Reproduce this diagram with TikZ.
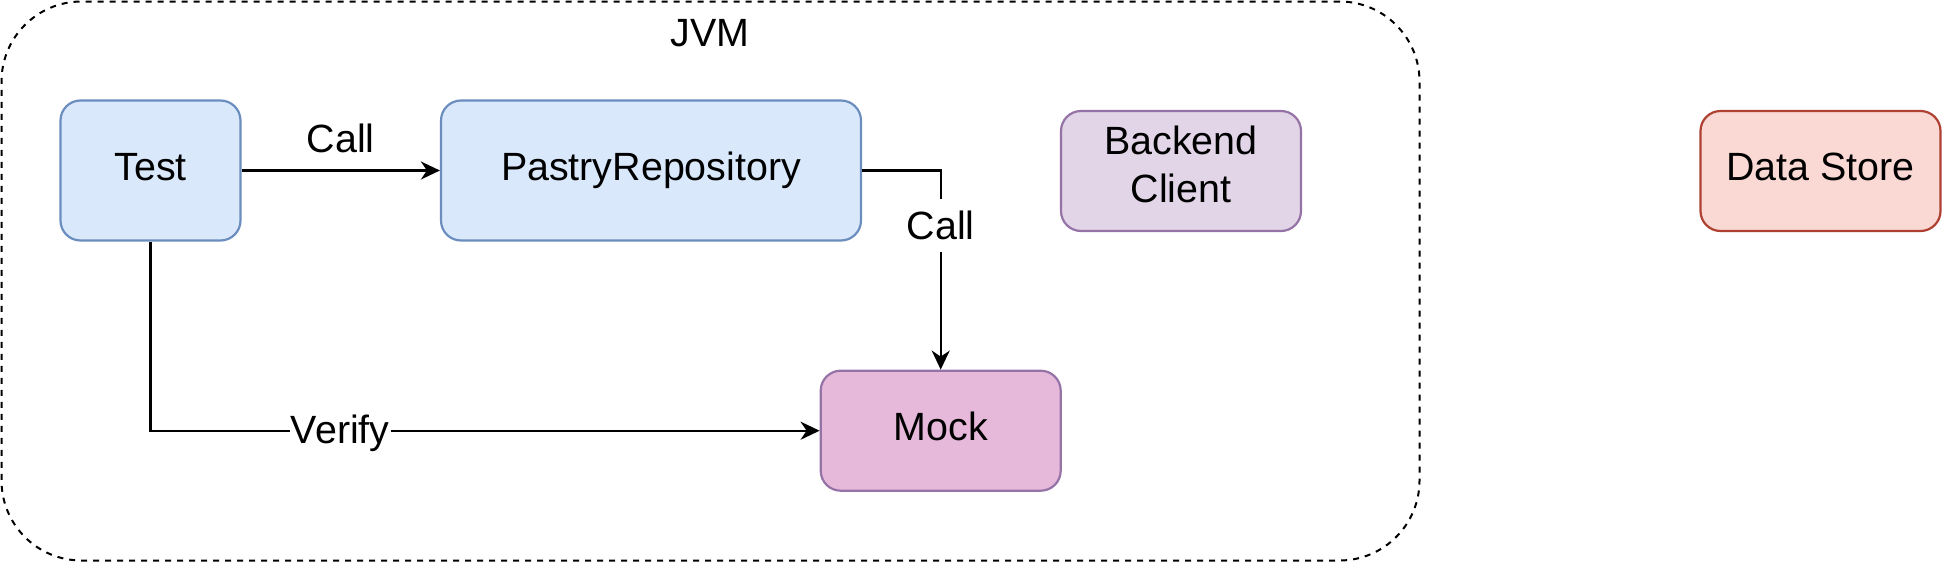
\documentclass[tikz,border=0pt]{standalone}
\usepackage{fontspec}
\setmainfont{Liberation Sans}
\usetikzlibrary{arrows.meta}
\definecolor{bluefill}{HTML}{DAE8FC}
\definecolor{bluedraw}{HTML}{6C8EBF}
\definecolor{purpfill}{HTML}{E1D5E7}
\definecolor{purpdraw}{HTML}{9673A6}
\definecolor{mockfill}{HTML}{E6B9DB}
\definecolor{redfill}{HTML}{FAD9D5}
\definecolor{reddraw}{HTML}{AE4132}
\begin{document}
\begin{tikzpicture}[x=0.5pt,y=-0.5pt,
  txt/.style={font=\fontsize{19.7}{24}\selectfont},
  box/.style={txt, draw, line width=1.1pt, rounded corners=10pt, align=center, inner sep=0pt,
              execute at begin node=\strut},
  bluebox/.style={box, fill=bluefill, draw=bluedraw},
  purpbox/.style={box, fill=purpfill, draw=purpdraw},
  mockbox/.style={box, fill=mockfill, draw=purpdraw},
  redbox/.style={box, fill=redfill, draw=reddraw},
  arr/.style={line width=1.2pt, -{Stealth[length=9.5pt,width=9pt,inset=3pt]}},
  lbl/.style={txt, fill=white, inner xsep=0.5pt, inner ysep=6pt}]
\useasboundingbox (0,0) rectangle (1942,562);
\node[draw, line width=1pt, dash pattern=on 3pt off 3pt, rounded corners=40pt,
      minimum width=709pt, minimum height=279.5pt, inner sep=0pt] (jvm) at (710.5,281) {};
\node[txt] (jvmlabel) at (710,33.5) {JVM};
\node[bluebox, minimum width=90pt, minimum height=70pt] (test) at (150.5,170.5) {Test};
\node[bluebox, minimum width=210pt, minimum height=70pt] (pastry) at (651,170.5) {PastryRepository};
\node[purpbox, minimum width=120pt, minimum height=60pt] (backend) at (1181,171) {Backend\\Client\strut};
\node[redbox, minimum width=120pt, minimum height=60pt] (store) at (1820.5,171) {Data Store};
\node[mockbox, minimum width=120pt, minimum height=60pt] (mock) at (940.7,430.7) {Mock};
\draw[arr] (test.east) -- node[txt, midway, yshift=15.8pt] {Call} (pastry.west);
\draw[arr] (pastry.east) -| node[lbl, pos=0.6375] {Call} (mock.north);
\draw[arr] (test.south) |- node[lbl, pos=0.6418, yshift=-1.5pt] {Verify} (mock.west);
\end{tikzpicture}
\end{document}
